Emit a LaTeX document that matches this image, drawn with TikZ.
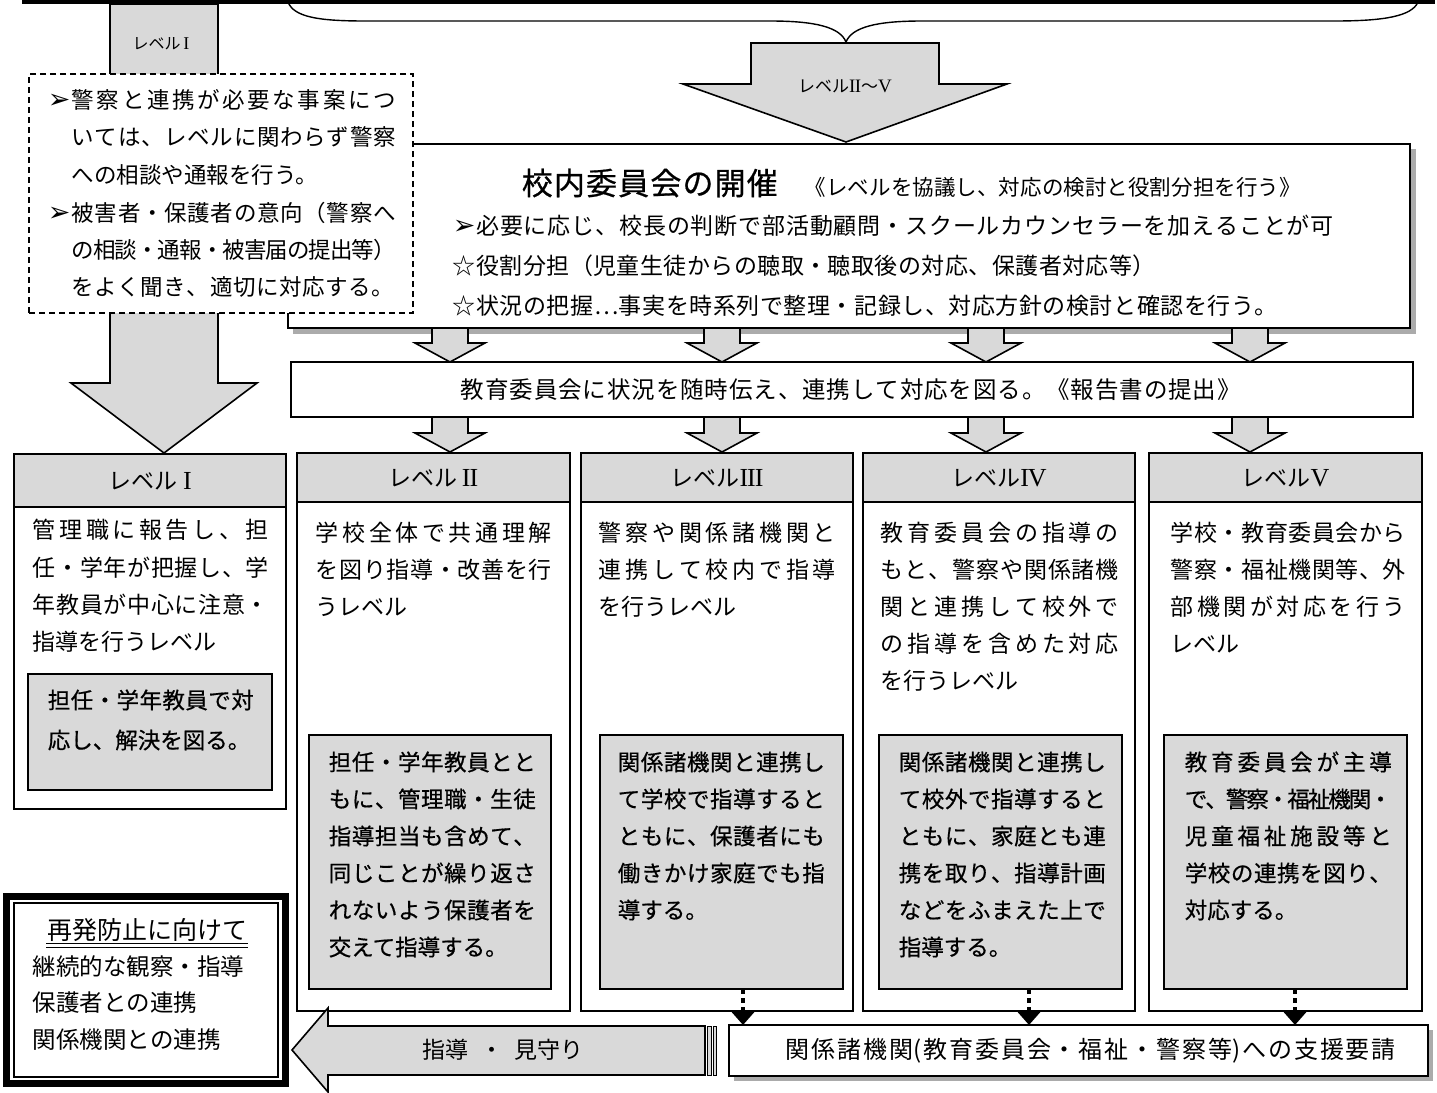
\documentclass[tikz,border=0pt]{standalone}
\usepackage{fontspec}
\setmainfont{Noto Sans CJK JP}
\newfontfamily\dv{DejaVu Sans}
\newfontfamily\lserif{Liberation Serif}[LetterSpace=-4]
\newfontfamily\med{Noto Sans CJK JP}[FakeBold=0.6]
\usetikzlibrary{arrows.meta}
\definecolor{gfill}{HTML}{D9D9D9}
\definecolor{shd}{HTML}{ABABAB}
\newcommand\sglue{\hskip 0pt plus 1fil minus 1fil\relax}
\ExplSyntaxOn
\NewDocumentCommand\spread{mm}{\hbox_to_wd:nn{#1}{\tl_map_inline:nn{#2}{##1\sglue}\unskip}}
\ExplSyntaxOff
\newcommand\cs{\rule[-0.12em]{0pt}{1em}}
\newcommand\arr{{\fontsize{27}{27}\dv ➢}}
\newcommand\rn[2]{{\fontsize{#1}{#1}\lserif #2}}
\newcommand\tsz{23}
\newcommand\tfont{}
\newcommand\jl[5]{\node[txt=\tsz] (#1) at (#2,#3) {\cs\tfont\spread{#4}{#5}};}
\newcommand\nl[4]{\node[txt=\tsz] (#1) at (#2,#3) {\cs\tfont #4};}
\newcommand\mkbox[6]{%
  \pgfmathsetmacro\bw{(#5)-(#3)}\pgfmathsetmacro\bh{(#6)-(#4)}%
  \pgfmathsetmacro\bx{((#3)+(#5))/2}\pgfmathsetmacro\by{((#4)+(#6))/2}%
  \node[#1,minimum width=\bw pt,minimum height=\bh pt] (#2) at (\bx,\by) {};}
\newcommand\sarrow[4]{\draw[garrow] ({#1-18},#2) -- ({#1+18},#2) -- ({#1+18},#3) -- ({#1+35},#3) -- (#1,#4) -- ({#1-35},#3) -- ({#1-18},#3) -- cycle;}
\begin{document}
\begin{tikzpicture}[x=1pt,y=-1pt,line width=1.6pt,line join=miter,
  txt/.style={inner sep=0pt,anchor=west,font=\fontsize{#1}{#1}\selectfont},
  ctxt/.style={inner sep=0pt,anchor=center,font=\fontsize{#1}{#1}\selectfont},
  blk/.style={draw,fill=white,inner sep=0pt,outer sep=0pt},
  gblk/.style={draw,fill=gfill,inner sep=0pt,outer sep=0pt},
  garrow/.style={draw,fill=gfill},
  dotconn/.style={line width=3.5pt,dash pattern=on 5pt off 4pt,-{Triangle[width=22pt,length=13pt]}}]
\useasboundingbox (0,0) rectangle (1437,1092);
\fill[white] (0,0) rectangle (1437,1092);
% top bar and brace
\coordinate (tbL) at (22,2); \coordinate (tbR) at (1435,2);
\draw[line width=4.5pt] (tbL) -- (tbR);
\draw[line width=1.4pt] (288,2) .. controls (294,17) and (318,21) .. (365,21) -- (770,21) .. controls (815,21) and (840,27) .. (846,42) .. controls (852,27) and (877,21) .. (922,21) -- (1335,21) .. controls (1385,21) and (1412,16) .. (1418,2);
% level I arrow
\draw[garrow] (110,4) -- (218,4) -- (218,383) -- (257,383) -- (164,453) -- (71,383) -- (110,383) -- cycle;
\node[ctxt=16] (aI) at (161,43) {\cs レベル\,\rn{18}{I}};
% committee box
\fill[shd] (293,149) rectangle (1416,334);
\mkbox{blk}{com}{288}{144}{1410}{328}
% dashed box
\mkbox{blk,dash pattern=on 6pt off 4pt}{dbox}{29}{74}{413}{313}
\renewcommand\tsz{22.5}
\node[txt=22.5] (d1m) at (47,100) {\cs\arr};
\jl{d1}{71}{100}{324pt}{警察と連携が必要な事案につ}
\jl{d2}{71}{137}{324pt}{いては、レベルに関わらず警察}
\nl{d3}{71}{175}{への相談や通報を行う。}
\node[txt=22.5] (d4m) at (47,213) {\cs\arr};
\jl{d4}{71}{213}{324pt}{被害者・保護者の意向（警察へ}
\jl{d5}{71}{250}{324pt}{の相談・通報・被害届の提出等）}
\jl{d6}{71}{287}{322pt}{をよく聞き、適切に対応する。}
% arrow II-V
\draw[garrow] (751,43) -- (939,43) -- (939,84) -- (1007,84) -- (846,142) -- (683,84) -- (751,84) -- cycle;
\node[ctxt=17] (aII) at (845,86) {\cs レベル\rn{19}{II}～\rn{19}{V}};
% committee text
\node[txt=31] (c0) at (521,183) {\cs\med\spread{256pt}{校内委員会の開催}};
\node[txt=21.5] (c0b) at (804,187) {\cs\spread{496pt}{《レベルを協議し、対応の検討と役割分担を行う》}};
\renewcommand\tsz{23}
\jl{c1}{452}{226}{881pt}{\arr 必要に応じ、校長の判断で部活動顧問・スクールカウンセラーを加えることが可}
\jl{c2}{452}{266}{703pt}{☆役割分担（児童生徒からの聴取・聴取後の対応、保護者対応等）}
\jl{c3}{452}{306}{825pt}{☆状況の把握…事実を時系列で整理・記録し、対応方針の検討と確認を行う。}
% education board box
\mkbox{blk}{edu}{291}{362}{1413}{417}
\renewcommand\tsz{23.5}
\jl{e1}{460}{390}{780pt}{教育委員会に状況を随時伝え、連携して対応を図る。《報告書の提出》}
% small arrows
\sarrow{450}{328}{343}{362}
\sarrow{722}{328}{343}{362}
\sarrow{986}{328}{343}{362}
\sarrow{1250}{328}{343}{362}
\sarrow{450}{417}{433}{452}
\sarrow{722}{417}{433}{452}
\sarrow{986}{417}{433}{452}
\sarrow{1250}{417}{433}{452}
% level boxes
\mkbox{blk}{L1}{14}{454}{286}{809}
\mkbox{gblk}{L1h}{14}{454}{286}{507}
\mkbox{gblk}{L1i}{28}{674}{272}{790}
\mkbox{blk}{L2}{297}{453}{570}{1011}
\mkbox{gblk}{L2h}{297}{453}{570}{502}
\mkbox{gblk}{L2i}{309}{735}{551}{989}
\mkbox{blk}{L3}{581}{453}{853}{1011}
\mkbox{gblk}{L3h}{581}{453}{853}{502}
\mkbox{gblk}{L3i}{600}{735}{843}{989}
\mkbox{blk}{L4}{863}{453}{1135}{1011}
\mkbox{gblk}{L4h}{863}{453}{1135}{502}
\mkbox{gblk}{L4i}{879}{735}{1122}{989}
\mkbox{blk}{L5}{1149}{453}{1422}{1011}
\mkbox{gblk}{L5h}{1149}{453}{1422}{502}
\mkbox{gblk}{L5i}{1164}{735}{1407}{989}
\node[ctxt=23] (h1) at (L1h.center) {\cs レベル\hspace{6pt}\rn{26}{I}};
\node[ctxt=23] (h2) at (L2h.center) {\cs レベル\hspace{4pt}\rn{26}{II}};
\node[ctxt=23] (h3) at (L3h.center) {\cs レベル\rn{26}{III}};
\node[ctxt=23] (h4) at (L4h.center) {\cs レベル\rn{26}{IV}};
\node[ctxt=23] (h5) at (L5h.center) {\cs レベル\rn{26}{V}};
\renewcommand\tsz{23}
\jl{p11}{32}{530}{236pt}{管理職に報告し、担}
\jl{p12}{32}{568}{236pt}{任・学年が把握し、学}
\jl{p13}{32}{605}{236pt}{年教員が中心に注意・}
\nl{p14}{32}{642}{指導を行うレベル}
\jl{p21}{315}{533}{236pt}{学校全体で共通理解}
\jl{p22}{315}{570}{236pt}{を図り指導・改善を行}
\nl{p23}{315}{607}{うレベル}
\jl{p31}{598}{533}{237pt}{警察や関係諸機関と}
\jl{p32}{598}{570}{237pt}{連携して校内で指導}
\nl{p33}{598}{607}{を行うレベル}
\jl{p41}{880}{533}{238pt}{教育委員会の指導の}
\jl{p42}{880}{570}{238pt}{もと、警察や関係諸機}
\jl{p43}{880}{607}{238pt}{関と連携して校外で}
\jl{p44}{880}{644}{238pt}{の指導を含めた対応}
\nl{p45}{880}{681}{を行うレベル}
\jl{p51}{1170}{533}{235pt}{学校・教育委員会から}
\jl{p52}{1170}{570}{235pt}{警察・福祉機関等、外}
\jl{p53}{1170}{607}{235pt}{部機関が対応を行う}
\nl{p54}{1170}{644}{レベル}
\renewcommand\tsz{22.5}
\renewcommand\tfont{\med}
\jl{q11}{47}{700}{206pt}{担任・学年教員で対}
\nl{q12}{47}{740}{応し、解決を図る。}
\jl{q21}{328}{762}{207pt}{担任・学年教員とと}
\jl{q22}{328}{799}{207pt}{もに、管理職・生徒}
\jl{q23}{328}{836}{207pt}{指導担当も含めて、}
\jl{q24}{328}{873}{207pt}{同じことが繰り返さ}
\jl{q25}{328}{910}{207pt}{れないよう保護者を}
\nl{q26}{328}{947}{交えて指導する。}
\jl{q31}{617}{762}{207pt}{関係諸機関と連携し}
\jl{q32}{617}{799}{207pt}{て学校で指導すると}
\jl{q33}{617}{836}{207pt}{ともに、保護者にも}
\jl{q34}{617}{873}{207pt}{働きかけ家庭でも指}
\nl{q35}{617}{910}{導する。}
\jl{q41}{898}{762}{207pt}{関係諸機関と連携し}
\jl{q42}{898}{799}{207pt}{て校外で指導すると}
\jl{q43}{898}{836}{207pt}{ともに、家庭とも連}
\jl{q44}{898}{873}{207pt}{携を取り、指導計画}
\jl{q45}{898}{910}{207pt}{などをふまえた上で}
\nl{q46}{898}{947}{指導する。}
\jl{q51}{1184}{762}{207pt}{教育委員会が主導}
\jl{q52}{1184}{799}{207pt}{で、警察・福祉機関・}
\jl{q53}{1184}{836}{207pt}{児童福祉施設等と}
\jl{q54}{1184}{873}{207pt}{学校の連携を図り、}
\nl{q55}{1184}{910}{対応する。}
\renewcommand\tfont{}
% support request box
\fill[shd] (734,1030) rectangle (1433,1081);
\mkbox{blk}{sup}{729}{1025}{1428}{1076}
\renewcommand\tsz{24}
\jl{s1}{785}{1050}{610pt}{関係諸機{関(}教育委員会・福祉・警察{等)}への支援要請}
% dotted connectors
\coordinate (x3) at (743,0); \coordinate (x4) at (1029,0); \coordinate (x5) at (1295,0);
\draw[dotconn] (L3i.south -| x3) -- (sup.north -| x3);
\draw[dotconn] (L4i.south -| x4) -- (sup.north -| x4);
\draw[dotconn] (L5i.south -| x5) -- (sup.north -| x5);
% guidance arrow
\draw[garrow] (705,1026) -- (328,1026) -- (328,1008) -- (292,1050) -- (328,1092) -- (328,1075) -- (705,1075) -- cycle;
\draw[fill=gfill,line width=1pt] (707.5,1026) rectangle (711.5,1075);
\draw[fill=gfill,line width=1pt] (713.5,1026) rectangle (716.5,1075);
\node[txt=23] (g1) at (422,1050) {\cs 指導\hspace{11.5pt}・\hspace{11.5pt}見守り};
% recurrence prevention box
\fill[white] (3,893) rectangle (289,1087);
\draw[line width=7pt] (6.5,896.5) rectangle (285.5,1083.5);
\mkbox{blk,line width=1.4pt}{rec}{14}{903}{278}{1077}
\node[ctxt=25] (r0) at (147,930) {\cs 再発防止に向けて};
\draw[line width=1.1pt] ([yshift=-0.5pt]r0.south west) -- ([yshift=-0.5pt]r0.south east);
\draw[line width=1.1pt] ([yshift=-4pt]r0.south west) -- ([yshift=-4pt]r0.south east);
\renewcommand\tsz{23.5}
\nl{r1}{32}{967}{継続的な観察・指導}
\nl{r2}{32}{1003}{保護者との連携}
\nl{r3}{32}{1040}{関係機関との連携}
\end{tikzpicture}
\end{document}
